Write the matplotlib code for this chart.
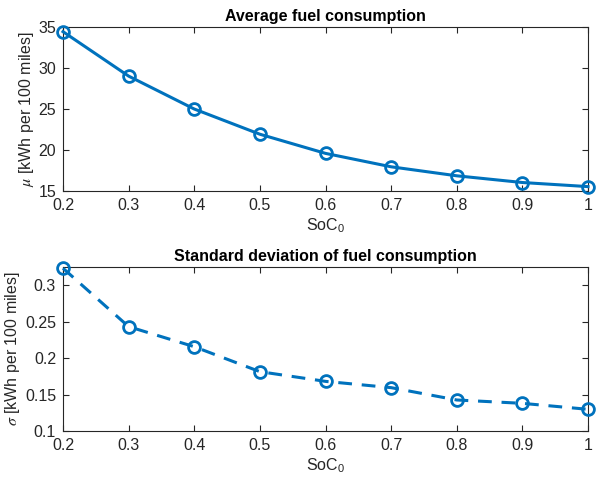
import matplotlib
matplotlib.use("Agg")
import matplotlib.pyplot as plt

# Initial state of charge values and fuel consumption statistics
soc0 = [0.2, 0.3, 0.4, 0.5, 0.6, 0.7, 0.8, 0.9, 1.0]
mean_fuel = [34.43, 29.0, 24.98, 21.9, 19.56, 17.92, 16.82, 16.0, 15.5]
std_fuel = [0.323, 0.243, 0.2155, 0.1813, 0.168, 0.1594, 0.1425, 0.1379, 0.1297]

xticks = [0.2, 0.3, 0.4, 0.5, 0.6, 0.7, 0.8, 0.9, 1.0]
xtick_labels = ["0.2", "0.3", "0.4", "0.5", "0.6", "0.7", "0.8", "0.9", "1"]
mean_yticks = [15, 20, 25, 30, 35]
std_yticks = [0.1, 0.15, 0.2, 0.25, 0.3]
std_ytick_labels = ["0.1", "0.15", "0.2", "0.25", "0.3"]

BLUE = "#0072BD"
GRAY = "#262626"

plt.rcParams["font.family"] = ["Liberation Sans", "DejaVu Sans"]
plt.rcParams["mathtext.fontset"] = "stix"
plt.rcParams["font.size"] = 11.5

fig = plt.figure(figsize=(5.96, 4.83), dpi=100)
W, H = 596, 483


def style_axes(ax):
    ax.tick_params(direction="in", top=True, right=True, length=4, width=0.8,
                   colors=GRAY, labelcolor=GRAY, labelsize=11.5, pad=5)
    for s in ax.spines.values():
        s.set_color(GRAY)
        s.set_linewidth(0.8)
    ax.set_xlim(0.2, 1.0)
    ax.set_xticks(xticks)
    ax.set_xticklabels(xtick_labels)


# top panel: mean
ax1 = fig.add_axes([63 / W, 1 - 190.7 / H, 525 / W, 163.7 / H])
ax1.plot(soc0, mean_fuel, "-o", color=BLUE, lw=2.2, ms=8.5, mew=2,
         mfc="none", clip_on=False, zorder=3)
style_axes(ax1)
ax1.set_ylim(15, 35)
ax1.set_yticks(mean_yticks)
ax1.set_title("Average fuel consumption", fontweight="bold", fontsize=11.5, pad=4)
ax1.set_xlabel(r"SoC$_\mathregular{0}$", color=GRAY, labelpad=3)
ax1.set_ylabel(r"$\mu$ [kWh per 100 miles]", color=GRAY, labelpad=2)

# bottom panel: standard deviation
ax2 = fig.add_axes([63 / W, 1 - 431 / H, 525 / W, 164 / H])
ax2.plot(soc0, std_fuel, "--o", color=BLUE, lw=2.2, ms=8.5, mew=2,
         mfc="none", clip_on=False, zorder=3, dashes=(4.5, 3.2))
style_axes(ax2)
ax2.set_ylim(0.1, 0.3247)
ax2.set_yticks(std_yticks)
ax2.set_yticklabels(std_ytick_labels)
ax2.set_title("Standard deviation of fuel consumption", fontweight="bold",
              fontsize=11.5, pad=4)
ax2.set_xlabel(r"SoC$_\mathregular{0}$", color=GRAY, labelpad=3)
ax2.set_ylabel(r"$\sigma$ [kWh per 100 miles]", color=GRAY, labelpad=2)

fig.savefig("out.png", dpi=100, facecolor="white")
